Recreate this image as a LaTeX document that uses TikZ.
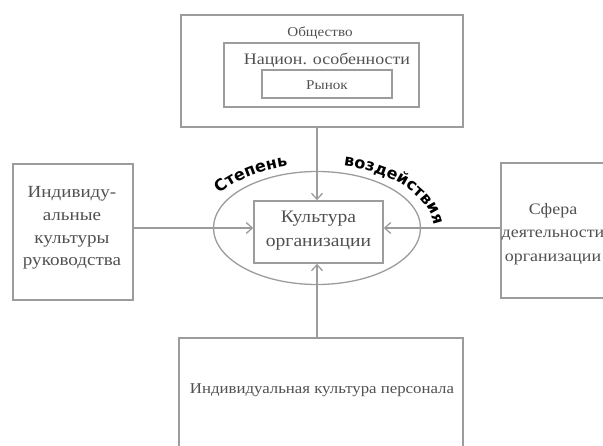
\documentclass[tikz,border=0pt]{standalone}
\usepackage{fontspec}
\setmainfont[FakeStretch=1.12]{Liberation Serif}
\newfontfamily\boldsans{DejaVu Sans}
\usetikzlibrary{arrows.meta,decorations.text,shapes.geometric}
\definecolor{lgray}{HTML}{9C9C9C}
\definecolor{tgray}{HTML}{505050}
\begin{document}
\begin{tikzpicture}[x=1pt,y=1pt,
  box/.style={draw=lgray, line width=1.6pt, inner sep=0pt, rectangle},
  txt/.style={text=tgray, inner sep=0pt, align=center},
  arr/.style={draw=lgray, line width=1.3pt, -{Straight Barb[length=6pt,width=11pt]}},
  arctext/.style={decorate, decoration={text along path, text align=left,
     text={|\boldsans\bfseries\fontsize{16}{16}\selectfont|#1}}}]
\clip (0,0) rectangle (603,445);
% top block
\node[box, minimum width=282pt, minimum height=112pt] (soc) at (322,374) {};
\node[box, minimum width=195pt, minimum height=64pt] (nat) at (321.5,370) {};
\node[box, minimum width=130pt, minimum height=28pt] (mkt) at (327,361) {};
\node[txt, font=\fontsize{13.5}{18}\selectfont] (tsoc) at (320,412) {Общество};
\node[txt, font=\fontsize{16}{18}\selectfont] (tnat) at (327,385) {Национ. особенности};
\node[txt, font=\fontsize{13.5}{18}\selectfont] (tmkt) at (327,360) {Рынок};
% left block
\node[box, minimum width=120pt, minimum height=136pt] (lead) at (73,213) {};
\node[txt, font=\fontsize{17}{22.8}\selectfont] (tlead) at (72,217) {Индивиду-\\альные\\культуры\\руководства};
% right block
\node[box, minimum width=130pt, minimum height=135pt] (sph) at (566,214.5) {};
\node[txt, font=\fontsize{16}{23.5}\selectfont] (tsph) at (553,211) {Сфера\\деятельности\\организации};
% bottom block
\node[box, minimum width=284pt, minimum height=140pt] (pers) at (321,37) {};
\node[txt, font=\fontsize{15}{18}\selectfont] (tpers) at (322,55) {Индивидуальная культура персонала};
% centre
\node[draw=lgray, line width=1.3pt, ellipse, minimum width=207pt, minimum height=113pt] (ell) at (317,217) {};
\node[box, minimum width=129pt, minimum height=62pt] (org) at (318.5,213) {};
\node[txt, font=\fontsize{17.5}{24}\selectfont] (torg) at (318.5,214) {Культура\\организации};
% connectors
\draw[arr] (soc.south -| 317,0) -- (317,0 |- org.north);
\draw[arr] (pers.north -| 317,0) -- (317,0 |- org.south);
\draw[arr] (lead.east |- 0,217) -- (org.west |- 0,217);
\draw[arr] (sph.west |- 0,217) -- (org.east |- 0,217);
% curved label
\path[arctext={Степень}] (317,213) ++(146:118 and 68) arc[start angle=146, end angle=90, x radius=118, y radius=68];
\path[arctext={воздействия}] (317,213) ++(77:118 and 68) arc[start angle=77, end angle=-20, x radius=118, y radius=68];
\end{tikzpicture}
\end{document}
